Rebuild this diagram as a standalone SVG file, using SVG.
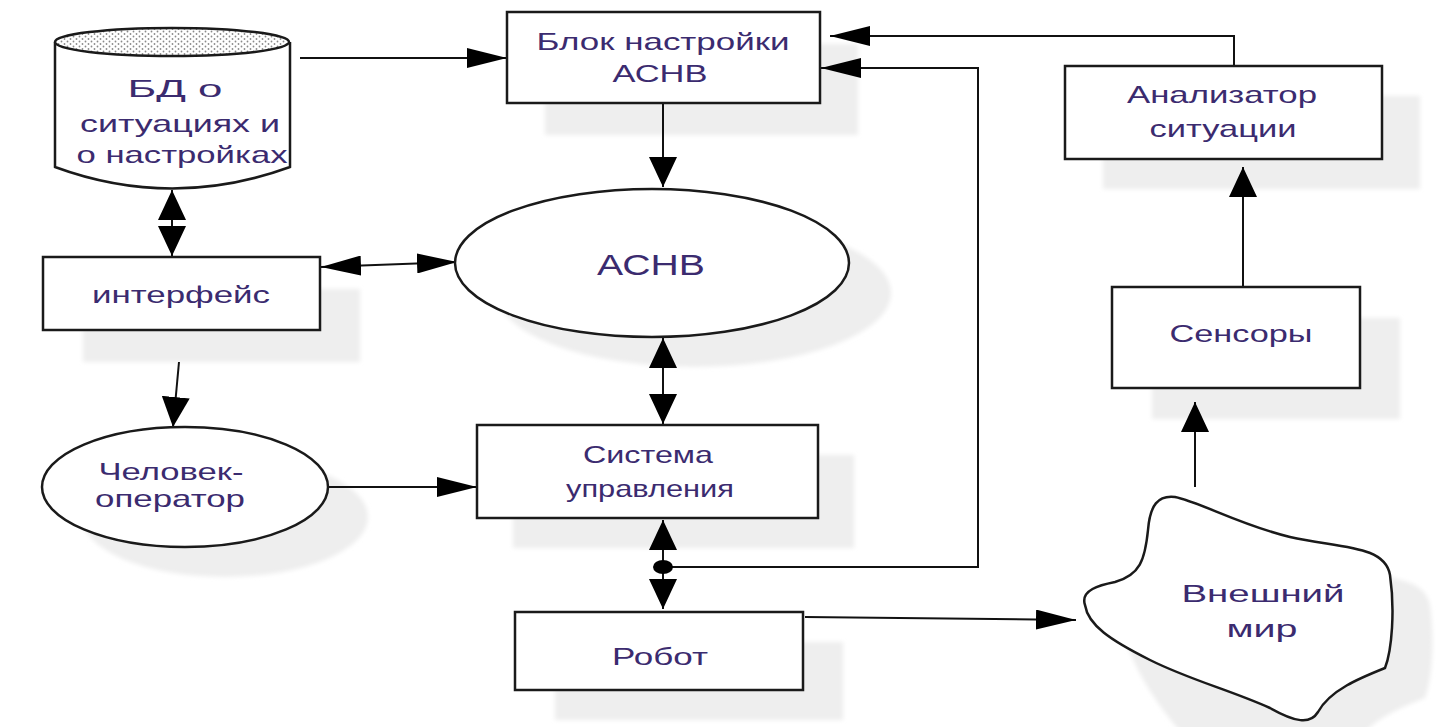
<svg xmlns="http://www.w3.org/2000/svg" width="1437" height="727" viewBox="0 0 1437 727">
  <style>
    .box { fill: #ffffff; stroke: #1a1a1a; stroke-width: 2.5; }
    .shadow { fill: #eeeeee; filter: url(#soft); }
    .lbl { font-family: "Liberation Sans", Arial, sans-serif; font-size: 24px; fill: #3b2b6f; text-anchor: middle; }
    .big { font-size: 30px; }
    .wire { fill: none; stroke: #111111; stroke-width: 2; }
  </style>
  <defs>
    <filter id="soft" x="-10%" y="-10%" width="120%" height="120%">
      <feGaussianBlur stdDeviation="2"/>
    </filter>
    <pattern id="dots" width="6" height="5" patternUnits="userSpaceOnUse">
      <rect width="6" height="5" fill="#ffffff"/>
      <circle cx="1.5" cy="1.5" r="0.9" fill="#8a8a8a"/>
      <circle cx="4.5" cy="4" r="0.9" fill="#8a8a8a"/>
    </pattern>
    <!-- horizontal-ish arrowhead (long) -->
    <marker id="ah" markerUnits="userSpaceOnUse" markerWidth="40" markerHeight="20" refX="40" refY="10" orient="auto-start-reverse">
      <path d="M0,0 L40,10 L0,20 z" fill="#000"/>
    </marker>
    <!-- vertical-ish arrowhead (wide) -->
    <marker id="av" markerUnits="userSpaceOnUse" markerWidth="30" markerHeight="28" refX="30" refY="14" orient="auto-start-reverse">
      <path d="M0,0 L30,14 L0,28 z" fill="#000"/>
    </marker>
  </defs>

  <rect width="1437" height="727" fill="#ffffff"/>

  <!-- drop shadows -->
  <g id="shadows">
    <rect class="shadow" x="545" y="44" width="313" height="91"/>
    <ellipse class="shadow" cx="694" cy="293" rx="197" ry="74"/>
    <rect class="shadow" x="83" y="289" width="277" height="73"/>
    <ellipse class="shadow" cx="225" cy="517" rx="143" ry="60"/>
    <rect class="shadow" x="513" y="455" width="341" height="93"/>
    <rect class="shadow" x="555" y="642" width="288" height="78"/>
    <rect class="shadow" x="1103" y="96" width="317" height="93"/>
    <rect class="shadow" x="1152" y="318" width="248" height="101"/>
    <path class="shadow" d="M1125,635 C1120,620 1140,615 1155,612 C1180,605 1185,590 1188,560 C1190,535 1198,525 1215,527 C1240,532 1280,555 1330,567 C1380,578 1425,575 1430,605 C1435,640 1432,680 1425,698 C1400,708 1370,720 1358,742 L1190,742 C1150,700 1128,655 1125,635 Z"/>
  </g>

  <!-- connectors -->
  <g id="connectors">
    <line class="wire" x1="300" y1="58" x2="507" y2="58" marker-end="url(#ah)"/>
    <polyline class="wire" points="1234,66 1234,36 830,36" marker-end="url(#ah)"/>
    <polyline class="wire" points="663,567 978,567 978,68 821,68" marker-end="url(#ah)"/>
    <line class="wire" x1="663" y1="103" x2="663" y2="187" marker-end="url(#av)"/>
    <line class="wire" x1="172" y1="190" x2="172" y2="256" marker-start="url(#av)" marker-end="url(#av)"/>
    <line class="wire" x1="321" y1="267" x2="457" y2="262" marker-start="url(#ah)" marker-end="url(#ah)"/>
    <line class="wire" x1="179" y1="362" x2="173" y2="427" marker-end="url(#av)"/>
    <line class="wire" x1="327" y1="487" x2="477" y2="487" marker-end="url(#ah)"/>
    <line class="wire" x1="663" y1="338" x2="663" y2="424" marker-start="url(#av)" marker-end="url(#av)"/>
    <line class="wire" x1="663" y1="520" x2="663" y2="609" marker-start="url(#av)" marker-end="url(#av)"/>
    <ellipse cx="663" cy="567" rx="10" ry="7" fill="#000"/>
    <line class="wire" x1="805" y1="617" x2="1076" y2="620" marker-end="url(#ah)"/>
    <line class="wire" x1="1195" y1="487" x2="1195" y2="402" marker-end="url(#av)"/>
    <line class="wire" x1="1243" y1="287" x2="1243" y2="167" marker-end="url(#av)"/>
  </g>

  <!-- database cylinder -->
  <g id="db">
    <path class="box" d="M55,42 L55,167 Q172,210 290,167 L290,42"/>
    <ellipse cx="172" cy="42" rx="117" ry="14" fill="url(#dots)" stroke="#1a1a1a" stroke-width="2.5"/>
    <text class="lbl" x="175" y="97" textLength="95" lengthAdjust="spacingAndGlyphs">БД о</text>
    <text class="lbl" x="180" y="132" textLength="200" lengthAdjust="spacingAndGlyphs">ситуациях и</text>
    <text class="lbl" x="182" y="163" textLength="211" lengthAdjust="spacingAndGlyphs">о настройках</text>
  </g>

  <g id="tuner">
    <rect class="box" x="507" y="12" width="313" height="91"/>
    <text class="lbl" x="663" y="50" textLength="253" lengthAdjust="spacingAndGlyphs">Блок настройки</text>
    <text class="lbl" x="660" y="82" textLength="95" lengthAdjust="spacingAndGlyphs">АСНВ</text>
  </g>

  <g id="analyzer">
    <rect class="box" x="1065" y="66" width="317" height="93"/>
    <text class="lbl" x="1222" y="103" textLength="190" lengthAdjust="spacingAndGlyphs">Анализатор</text>
    <text class="lbl" x="1223" y="137" textLength="147" lengthAdjust="spacingAndGlyphs">ситуации</text>
  </g>

  <g id="asnv">
    <ellipse class="box" cx="652" cy="263" rx="197" ry="74"/>
    <text class="lbl big" x="651" y="275" textLength="108" lengthAdjust="spacingAndGlyphs">АСНВ</text>
  </g>

  <g id="interface">
    <rect class="box" x="43" y="257" width="277" height="73"/>
    <text class="lbl" x="181" y="303" textLength="178" lengthAdjust="spacingAndGlyphs">интерфейс</text>
  </g>

  <g id="operator">
    <ellipse class="box" cx="185" cy="487" rx="143" ry="60"/>
    <text class="lbl" x="171" y="480" textLength="145" lengthAdjust="spacingAndGlyphs">Человек-</text>
    <text class="lbl" x="170" y="507" textLength="150" lengthAdjust="spacingAndGlyphs">оператор</text>
  </g>

  <g id="control">
    <rect class="box" x="477" y="425" width="341" height="93"/>
    <text class="lbl" x="648" y="463" textLength="130" lengthAdjust="spacingAndGlyphs">Система</text>
    <text class="lbl" x="650" y="497" textLength="168" lengthAdjust="spacingAndGlyphs">управления</text>
  </g>

  <g id="robot">
    <rect class="box" x="515" y="612" width="288" height="78"/>
    <text class="lbl" x="660" y="665" textLength="96" lengthAdjust="spacingAndGlyphs">Робот</text>
  </g>

  <g id="sensors">
    <rect class="box" x="1112" y="287" width="248" height="101"/>
    <text class="lbl" x="1241" y="342" textLength="143" lengthAdjust="spacingAndGlyphs">Сенсоры</text>
  </g>

  <g id="world">
    <path class="box" d="M1085,605 C1080,590 1100,585 1115,582 C1140,575 1145,560 1148,530 C1150,505 1158,495 1175,497 C1200,502 1240,525 1290,537 C1340,548 1385,545 1390,575 C1395,610 1392,650 1385,668 C1360,678 1330,690 1318,712 C1310,725 1295,722 1270,708 C1230,690 1190,680 1150,660 C1110,640 1088,625 1085,605 Z"/>
    <text class="lbl" x="1263" y="602" textLength="163" lengthAdjust="spacingAndGlyphs">Внешний</text>
    <text class="lbl" x="1262" y="637" textLength="71" lengthAdjust="spacingAndGlyphs">мир</text>
  </g>
</svg>
